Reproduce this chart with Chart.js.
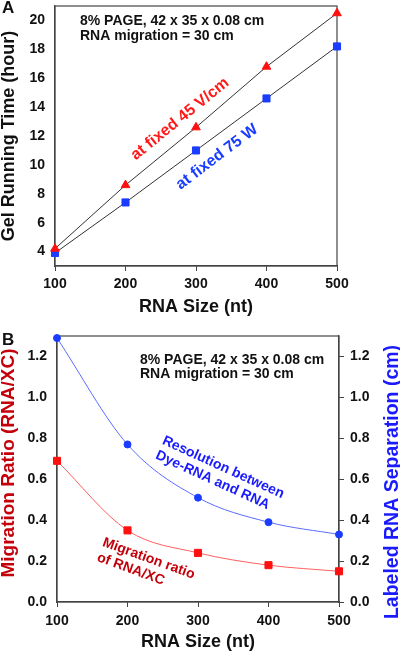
<!DOCTYPE html>
<html>
<head>
<meta charset="utf-8">
<script src="https://cdn.jsdelivr.net/npm/chart.js@4.4.1/dist/chart.umd.min.js"></script>
<style>
  html, body { margin: 0; padding: 0; background: #fff; }
  #wrap { position: relative; width: 400px; height: 653px; }
  canvas { position: absolute; left: 0; }
  #chartA { top: 0; }
  #chartB { top: 322px; }
</style>
</head>
<body>
<div id="wrap">
  <canvas id="chartA" width="400" height="322"></canvas>
  <canvas id="chartB" width="400" height="331"></canvas>
</div>
<script>
// RNA size (nt) on both panels
const sizes = [100, 200, 300, 400, 500];

// Panel A: gel running time (hour)
const timeFixedVolt = [4.2, 8.6, 12.6, 16.8, 20.5];
const timeFixedWatt = [3.9, 7.4, 11.0, 14.6, 18.2];
const timeTicks = [4, 6, 8, 10, 12, 14, 16, 18, 20];

// Panel B: migration ratio (left) and labeled RNA separation in cm (right)
const migrationRatio = [0.69, 0.35, 0.24, 0.18, 0.15];
const separation = [1.29, 0.77, 0.51, 0.39, 0.33];
const ratioTicks = [0, 0.2, 0.4, 0.6, 0.8, 1.0, 1.2];

const FONT = 'Arial, "Liberation Sans", sans-serif';
Chart.defaults.font.family = FONT;
Chart.defaults.color = '#111';

const pts = (ys) => sizes.map((x, i) => ({ x: x, y: ys[i] }));
const fixTicks = (list) => (axis) => { axis.ticks = list.map(v => ({ value: v })); };
const fitWidth = (w) => (s) => { s.width = w; s.paddingTop = 0; s.paddingBottom = 0; };
const fitHeight = (h) => (s) => { s.height = h; s.paddingLeft = 0; s.paddingRight = 0; };

const tickFont = { size: 14, weight: 'bold' };
const AXIS = '#444';

// frame around plot area + free text
const notesPlugin = {
    id: 'notes',
    beforeDatasetsDraw(chart) {
        const a = chart.chartArea;
        const ctx = chart.ctx;
        ctx.save();
        ctx.strokeStyle = AXIS;
        ctx.lineWidth = 1.2;
        ctx.strokeRect(a.left, a.top, a.right - a.left, a.bottom - a.top);
        ctx.restore();
    },
    afterDraw(chart, args, opts) {
        const ctx = chart.ctx;
        (opts.items || []).forEach(n => {
            ctx.save();
            ctx.translate(n.x, n.y);
            ctx.rotate((n.angle || 0) * Math.PI / 180);
            ctx.font = n.font;
            ctx.fillStyle = n.color || '#111';
            ctx.textAlign = n.align || 'left';
            ctx.textBaseline = n.baseline || 'middle';
            n.text.forEach((line, i) => ctx.fillText(line, 0, i * (n.lineHeight || 0)));
            ctx.restore();
        });
    }
};

// ---------- Panel A ----------
new Chart(document.getElementById('chartA'), {
    type: 'line',
    data: {
        datasets: [
            {
                label: 'at fixed 45 V/cm',
                data: pts(timeFixedVolt),
                borderColor: '#333',
                borderWidth: 1,
                pointStyle: 'triangle',
                pointRadius: 5,
                pointBackgroundColor: '#ff1010',
                pointBorderColor: '#ff1010',
                tension: 0,
                clip: false,
            },
            {
                label: 'at fixed 75 W',
                data: pts(timeFixedWatt),
                borderColor: '#333',
                borderWidth: 1,
                pointStyle: 'rect',
                pointRadius: 5,
                pointBackgroundColor: '#1a3cff',
                pointBorderColor: '#1a3cff',
                tension: 0,
                clip: false,
            },
        ],
    },
    options: {
        responsive: false,
        animation: false,
        layout: { padding: { top: 1, right: 63, left: 0, bottom: 0 } },
        plugins: {
            legend: { display: false },
            tooltip: { enabled: false },
            notes: {
                items: [
                    { text: ['A'], x: 2, y: 13, baseline: 'alphabetic', font: 'bold 17px ' + FONT },
                    { text: ['8% PAGE, 42 x 35 x 0.08 cm', 'RNA migration = 30 cm'], x: 80, y: 21, lineHeight: 15, font: 'bold 14px ' + FONT },
                    { text: ['at fixed 45 V/cm'], x: 180, y: 119, angle: -39, align: 'center', color: '#ff1a1a', font: 'bold 16px ' + FONT },
                    { text: ['at fixed 75 W'], x: 217, y: 157, angle: -37, align: 'center', color: '#1a3cff', font: 'bold 16px ' + FONT },
                ],
            },
        },
        scales: {
            x: {
                type: 'linear',
                min: 100,
                max: 500,
                afterBuildTicks: fixTicks(sizes),
                afterFit: fitHeight(56),
                border: { display: true, color: AXIS, width: 1.2 },
                grid: { drawOnChartArea: false, drawTicks: true, tickLength: 5, color: AXIS },
                ticks: { font: tickFont, padding: 5, autoSkip: false, maxRotation: 0 },
                title: {
                    display: true,
                    text: 'RNA Size (nt)',
                    font: { size: 18, weight: 'bold', lineHeight: 1 },
                    padding: { top: 0, bottom: 6 },
                },
            },
            y: {
                min: 3,
                max: 21,
                afterBuildTicks: fixTicks(timeTicks),
                afterFit: fitWidth(55),
                border: { display: true, color: AXIS, width: 1.2 },
                grid: { display: false, drawTicks: false },
                ticks: { font: tickFont, padding: 10, autoSkip: false },
                title: {
                    display: true,
                    text: 'Gel Running Time (hour)',
                    font: { size: 18, weight: 'bold', lineHeight: 1 },
                    padding: { top: 0, bottom: 0 },
                },
            },
        },
    },
    plugins: [notesPlugin],
});

// ---------- Panel B ----------
new Chart(document.getElementById('chartB'), {
    type: 'line',
    data: {
        datasets: [
            {
                label: 'Migration ratio of RNA/XC',
                data: pts(migrationRatio),
                yAxisID: 'y',
                borderColor: '#ff6060',
                borderWidth: 1,
                pointStyle: 'rect',
                pointRadius: 5,
                pointBackgroundColor: '#ff1010',
                pointBorderColor: '#ff1010',
                cubicInterpolationMode: 'monotone',
                clip: false,
            },
            {
                label: 'Resolution between Dye-RNA and RNA',
                data: pts(separation),
                yAxisID: 'y2',
                borderColor: '#5a6cff',
                borderWidth: 1,
                pointStyle: 'circle',
                pointRadius: 3.5,
                pointBackgroundColor: '#1a3cff',
                pointBorderColor: '#1a3cff',
                cubicInterpolationMode: 'monotone',
                clip: false,
            },
        ],
    },
    options: {
        responsive: false,
        animation: false,
        layout: { padding: { top: 14, right: 0, left: 0, bottom: 0 } },
        plugins: {
            legend: { display: false },
            tooltip: { enabled: false },
            notes: {
                items: [
                    { text: ['B'], x: 2, y: 23, baseline: 'alphabetic', font: 'bold 17px ' + FONT },
                    { text: ['8% PAGE, 42 x 35 x 0.08 cm', 'RNA migration = 30 cm'], x: 140, y: 38, lineHeight: 14.5, font: 'bold 14px ' + FONT },
                    { text: ['Resolution between', 'Dye-RNA and RNA'], x: 163, y: 118, angle: 24.5, lineHeight: 16, color: '#1a1aff', font: 'bold 14px ' + FONT },
                    { text: ['Migration ratio', 'of RNA/XC'], x: 103, y: 220, angle: 20, lineHeight: 16, color: '#c4000a', font: 'bold 14px ' + FONT },
                    { text: ['Migration Ratio (RNA/XC)'], x: 8.5, y: 141, angle: -90, align: 'center', color: '#c4000a', font: 'bold 19px ' + FONT },
                    { text: ['Labeled RNA Separation (cm)'], x: 393, y: 160, angle: -90, align: 'center', color: '#1a1aff', font: 'bold 19.5px ' + FONT },
                ],
            },
        },
        scales: {
            x: {
                type: 'linear',
                min: 100,
                max: 500,
                afterBuildTicks: fixTicks(sizes),
                afterFit: fitHeight(51),
                border: { display: true, color: AXIS, width: 1.2 },
                grid: { drawOnChartArea: false, drawTicks: true, tickLength: 5, color: AXIS },
                ticks: { font: tickFont, padding: 6, autoSkip: false, maxRotation: 0 },
                title: {
                    display: true,
                    text: 'RNA Size (nt)',
                    font: { size: 18, weight: 'bold', lineHeight: 1 },
                    padding: { top: 0, bottom: 2 },
                },
            },
            y: {
                position: 'left',
                min: 0,
                max: 1.3,
                afterBuildTicks: fixTicks(ratioTicks),
                afterFit: fitWidth(57),
                border: { display: true, color: AXIS, width: 1.2 },
                grid: { display: false, drawTicks: false },
                ticks: { font: tickFont, padding: 10, autoSkip: false, callback: v => v.toFixed(1) },
            },
            y2: {
                position: 'right',
                min: 0,
                max: 1.3,
                afterBuildTicks: fixTicks(ratioTicks),
                afterFit: fitWidth(61),
                border: { display: true, color: AXIS, width: 1.2 },
                grid: { drawOnChartArea: false, drawTicks: true, tickLength: 5, color: AXIS },
                ticks: { font: tickFont, padding: 6, autoSkip: false, callback: v => v.toFixed(1) },
            },
        },
    },
    plugins: [notesPlugin],
});
</script>
</body>
</html>
